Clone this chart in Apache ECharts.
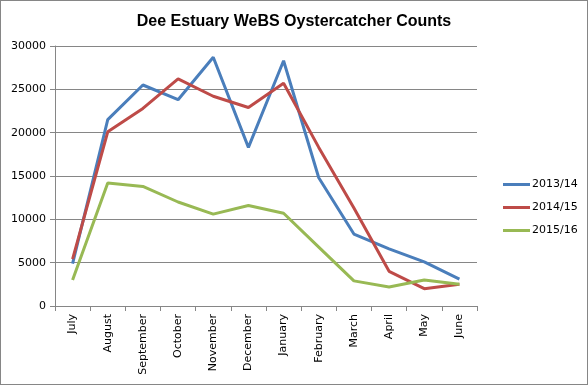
<!DOCTYPE html>
<html><head><meta charset="utf-8">
<script src="https://cdn.jsdelivr.net/npm/echarts@6/dist/echarts.min.js"></script>
<style>html,body{margin:0;padding:0;background:#fff}#c{width:586px;height:383px;border:1px solid #868686}</style>
</head><body><div id="c"></div>
<script>
const title = "Dee Estuary WeBS Oystercatcher Counts";
const months = ["July","August","September","October","November","December","January","February","March","April","May","June"];
const yTicks = [0,5000,10000,15000,20000,25000,30000];
const s1314 = [4900,21500,25500,23800,28700,18300,28300,14800,8300,6600,5100,3100];
const s1415 = [5400,20100,22800,26200,24200,22900,25700,18300,11300,4000,2000,2500];
const s1516 = [3000,14200,13800,12000,10600,11600,10700,6800,2900,2200,3000,2500];
const names = ["2013/14","2014/15","2015/16"];
const colors = ["#4a7ebb","#be4b48","#98b954"];
const font = "DejaVu Sans";
const chart = echarts.init(document.getElementById('c'));
chart.setOption({
  animation:false,
  title:{text:title,left:'center',top:8,textStyle:{fontFamily:'Liberation Sans',fontWeight:'bold',fontSize:16,color:'#000'}},
  legend:{orient:'vertical',left:497,top:173,itemGap:12,itemWidth:27,itemHeight:3,icon:'rect',
    textStyle:{fontFamily:font,fontSize:11,color:'#000',padding:[0,0,0,-3]},data:names},
  grid:{left:54,right:110,top:45,bottom:78,containLabel:false},
  xAxis:{type:'category',data:months,boundaryGap:true,
    axisLine:{lineStyle:{color:'#868686'}},
    axisTick:{show:true,length:5,lineStyle:{color:'#868686'}},
    axisLabel:{rotate:90,margin:8,fontFamily:font,fontSize:11,color:'#000',interval:0}},
  yAxis:{type:'value',min:yTicks[0],max:yTicks[yTicks.length-1],interval:5000,
    axisLine:{show:true,lineStyle:{color:'#868686'}},
    axisTick:{show:true,length:5,lineStyle:{color:'#868686'}},
    splitLine:{lineStyle:{color:'#868686'}},
    axisLabel:{margin:9,fontFamily:font,fontSize:11,color:'#000',formatter:v=>String(v)}},
  series:[s1314,s1415,s1516].map((d,i)=>({name:names[i],type:'line',data:d,showSymbol:false,symbol:'none',
    lineStyle:{width:3,color:colors[i]},itemStyle:{color:colors[i]}}))
});
</script></body></html>
